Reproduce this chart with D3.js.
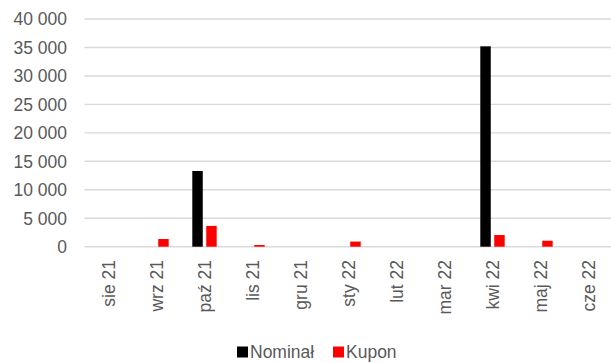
<!DOCTYPE html>
<html>
<head>
<meta charset="utf-8">
<script src="https://cdn.jsdelivr.net/npm/d3@7"></script>
<style>
  html, body { margin: 0; padding: 0; background: #fff; }
  svg text { font-family: "Liberation Sans", Arial, sans-serif; fill: #595959; }
</style>
</head>
<body>
<svg id="chart" width="611" height="363"></svg>
<script>
// Monthly payments: face value (Nominał) and coupon (Kupon)
const months = ["sie 21", "wrz 21", "paź 21", "lis 21", "gru 21", "sty 22", "lut 22", "mar 22", "kwi 22", "maj 22", "cze 22"];
const nominal = [0, 0, 13300, 0, 0, 0, 0, 0, 35200, 0, 0];
const coupon  = [0, 1350, 3650, 300, 0, 900, 0, 0, 2050, 1050, 0];
const seriesNames = ["Nominał", "Kupon"];
const seriesColors = ["#000000", "#ff0000"];
const yTicks = [0, 5000, 10000, 15000, 20000, 25000, 30000, 35000, 40000];

const svg = d3.select("#chart");
const plot = { left: 84.5, right: 612.5, top: 19, bottom: 246.7 };

const x = d3.scaleBand().domain(months).range([plot.left, plot.right]).padding(0);
const xInner = d3.scaleBand().domain(seriesNames)
  .range([x.bandwidth() / 2 - 12.2, x.bandwidth() / 2 + 12.2]).paddingInner(0.25);
const y = d3.scaleLinear().domain([0, 40000]).range([plot.bottom, plot.top]);

const pl = d3.formatLocale({ decimal: ",", thousands: " ", grouping: [3], currency: ["", ""] });
const fmt = pl.format(",d");

// horizontal gridlines (the zero line doubles as the category axis)
svg.append("g").selectAll("line").data(yTicks).join("line")
  .attr("x1", plot.left).attr("x2", 611)
  .attr("y1", d => y(d)).attr("y2", d => y(d))
  .attr("stroke", "#d9d9d9").attr("stroke-width", 1.4);

// y axis labels
svg.append("g").selectAll("text").data(yTicks).join("text")
  .attr("x", 67).attr("y", d => y(d)).attr("dy", "0.36em")
  .attr("text-anchor", "end").attr("font-size", 17.5)
  .text(d => fmt(d));

// bars
const rows = months.map((m, i) => ({ month: m, values: [nominal[i], coupon[i]] }));
const groups = svg.append("g").selectAll("g").data(rows).join("g")
  .attr("transform", d => `translate(${x(d.month)},0)`);
groups.selectAll("rect")
  .data(d => d.values.map((v, k) => ({ key: seriesNames[k], value: v, color: seriesColors[k] })).filter(e => e.value > 0))
  .join("rect")
  .attr("x", e => xInner(e.key))
  .attr("width", xInner.bandwidth())
  .attr("y", e => y(e.value))
  .attr("height", e => y(0) - y(e.value))
  .attr("fill", e => e.color);

// x axis labels, rotated
svg.append("g").selectAll("text").data(months).join("text")
  .attr("transform", d => `translate(${x(d) + x.bandwidth() / 2},260) rotate(-90)`)
  .attr("text-anchor", "end").attr("dy", "0.36em")
  .attr("font-size", 17.5)
  .text(d => d);

// legend
const legend = svg.append("g");
const legendItems = [
  { name: seriesNames[0], color: seriesColors[0], x: 237 },
  { name: seriesNames[1], color: seriesColors[1], x: 333 }
];
legend.selectAll("rect").data(legendItems).join("rect")
  .attr("x", d => d.x).attr("y", 346.5).attr("width", 11).attr("height", 11)
  .attr("fill", d => d.color);
legend.selectAll("text").data(legendItems).join("text")
  .attr("x", d => d.x + 13).attr("y", 352).attr("dy", "0.36em")
  .attr("font-size", 17.5)
  .text(d => d.name);
</script>
</body>
</html>
